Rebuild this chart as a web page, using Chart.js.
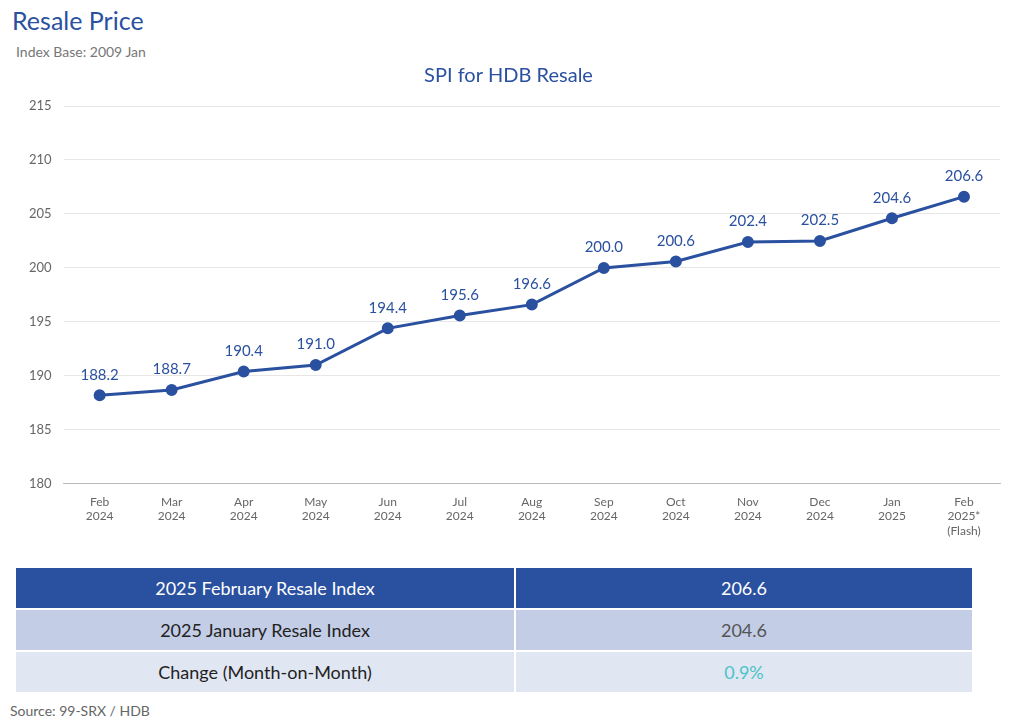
<!DOCTYPE html>
<html><head><meta charset="utf-8">
<script src="https://cdn.jsdelivr.net/npm/chart.js@4"></script>
<style>
body{margin:0;width:1015px;height:723px;background:#fff;font-family:Lato,"Noto Sans",sans-serif;position:relative;overflow:hidden}
#t1{position:absolute;left:12px;top:5px;font-size:25px;color:#2a50a0}
#t2{position:absolute;left:16px;top:43px;font-size:14px;color:#777}
#wrap{position:absolute;left:0;top:64px;width:1010px;height:477px}
table{position:absolute;left:14px;top:566px;width:960px;border-collapse:collapse;font-size:18px}
td{height:40px;text-align:center;border:2px solid #fff;padding:0}
#src{position:absolute;left:10px;top:702px;font-size:14px;color:#666}
</style></head><body>
<div id="t1">Resale Price</div>
<div id="t2">Index Base: 2009 Jan</div>
<div id="wrap"><canvas id="c"></canvas></div>
<table>
<tr style="background:#2a50a0;color:#fff"><td style="width:498px">2025 February Resale Index</td><td>206.6</td></tr>
<tr style="background:#c3cde6;color:#222"><td>2025 January Resale Index</td><td style="color:#555">204.6</td></tr>
<tr style="background:#e1e6f3;color:#222"><td>Change (Month-on-Month)</td><td style="color:#4cc3c8">0.9%</td></tr>
</table>
<div id="src">Source: 99-SRX / HDB</div>
<script>
const categories=[["Feb","2024"],["Mar","2024"],["Apr","2024"],["May","2024"],["Jun","2024"],["Jul","2024"],["Aug","2024"],["Sep","2024"],["Oct","2024"],["Nov","2024"],["Dec","2024"],["Jan","2025"],["Feb","2025*","(Flash)"]];
const values=[188.2,188.7,190.4,191.0,194.4,195.6,196.6,200.0,200.6,202.4,202.5,204.6,206.6];
const yTicks=[180,185,190,195,200,205,210,215];
const labelPlugin={id:'lbl',afterDatasetsDraw(ch){const ctx=ch.ctx;const m=ch.getDatasetMeta(0);ctx.save();ctx.font='15px Lato, "Noto Sans", sans-serif';ctx.fillStyle='#2a50a0';ctx.textAlign='center';ctx.textBaseline='bottom';m.data.forEach((p,i)=>ctx.fillText(values[i].toFixed(1),p.x,p.y-13));ctx.restore();}};
new Chart(document.getElementById('c'),{type:'line',
data:{labels:categories,datasets:[{data:values,borderColor:'#2a50a0',backgroundColor:'#2a50a0',borderWidth:3,pointRadius:4.5,tension:0}]},
options:{responsive:true,maintainAspectRatio:false,animation:false,
layout:{padding:{left:17,right:10,top:0,bottom:0}},
plugins:{legend:{display:false},tooltip:{enabled:false},
title:{display:true,text:'SPI for HDB Resale',color:'#2a50a0',font:{size:20,family:'Lato',weight:'normal'},padding:{top:0,bottom:18}}},
scales:{x:{offset:true,grid:{display:false},border:{color:'#bbb'},ticks:{color:'#666',font:{size:12,family:'Lato'},maxRotation:0,autoSkip:false}},
y:{min:180,max:215,afterBuildTicks(a){a.ticks=yTicks.map(v=>({value:v}));},grid:{color:'#e6e6e6',drawTicks:false},border:{display:false},ticks:{color:'#666',padding:12,font:{size:13,family:'Lato'}}}}},
plugins:[labelPlugin]});
</script></body></html>
